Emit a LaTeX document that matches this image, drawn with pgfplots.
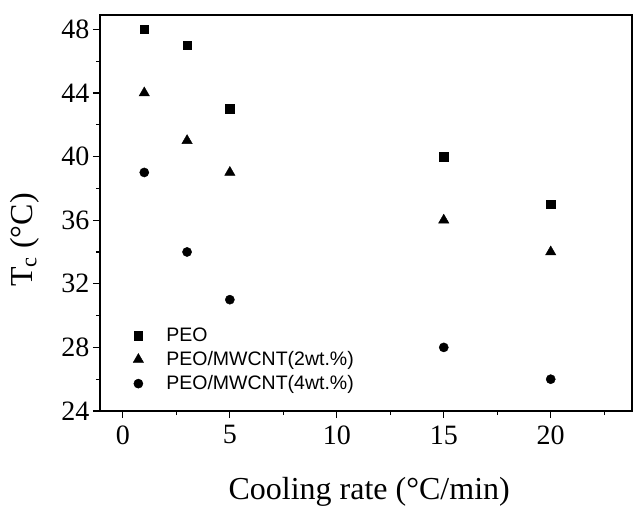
\documentclass[border=0pt]{standalone}
\usepackage{fontspec}
\setmainfont{Liberation Serif}
\newfontfamily\legfont{Liberation Sans}
\usepackage{pgfplots}
\pgfplotsset{compat=1.18}
\begin{document}
\begin{tikzpicture}
\begin{axis}[
  name=ax,
  scale only axis,
  width=532pt, height=396pt,
  xmin=-1.07, xmax=23.8,
  ymin=24, ymax=48.9,
  xtick={0,5,10,15,20},
  minor xtick={2.5,7.5,12.5,17.5,22.5},
  ytick={24,28,32,36,40,44,48},
  minor ytick={26,30,34,38,42,46},
  tick align=outside,
  xtick pos=left, ytick pos=left,
  major tick length=7pt, minor tick length=4pt,
  every tick/.style={black, line width=1.2pt},
  axis line style={line width=1.4pt},
  /pgf/number format/assume math mode=true,
  tick label style={font=\fontsize{28}{32}\selectfont},
  xticklabel shift=4pt,
  xlabel={Cooling rate (°C/min)},
  ylabel={T\textsubscript{c} (°C)},
  label style={font=\fontsize{32}{36}\selectfont},
  xlabel style={at={(axis description cs:0.506,-0.205)}, anchor=center},
  ylabel style={at={(axis description cs:-0.141,0.432)}, anchor=center},
  legend style={draw=none, fill=none, at={(axis description cs:0.062,0.215)}, anchor=north west,
    font=\legfont\fontsize{19.5}{22}\selectfont, row sep=4.5pt, inner sep=0pt},
  legend cell align=left,
  legend image code/.code={\path[draw=none,fill=none] (-5pt,0pt) (26pt,0pt); \draw[#1] plot coordinates {(0pt,0pt)};},
]
\addplot[only marks, mark=square*, mark size=4.2pt, black] coordinates {(1,48) (3,47) (5,43) (15,40) (20,37)};
\addlegendentry{PEO}
\addplot[only marks, mark=triangle*, mark size=6pt, black] coordinates {(1,44) (3,41) (5,39) (15,36) (20,34)};
\addlegendentry{PEO/MWCNT(2wt.\%)}
\addplot[only marks, mark=*, mark size=4.6pt, black] coordinates {(1,39) (3,34) (5,31) (15,28) (20,26)};
\addlegendentry{PEO/MWCNT(4wt.\%)}
\end{axis}
\pgfresetboundingbox
\path ([shift={(-100pt,-96pt)}]ax.south west) rectangle ([shift={(1pt,15pt)}]ax.north east);
\end{tikzpicture}
\end{document}
